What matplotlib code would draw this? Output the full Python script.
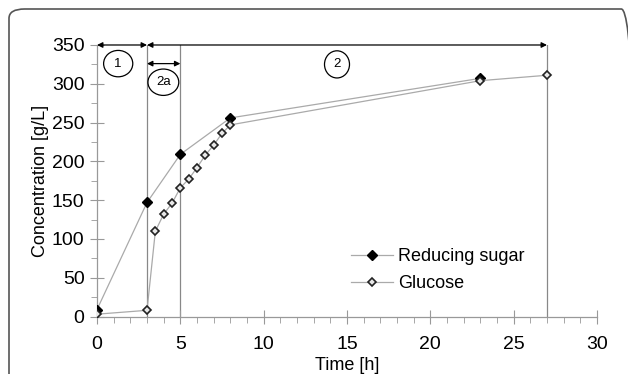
import matplotlib.pyplot as plt
from matplotlib.patches import Ellipse, FancyBboxPatch

plt.rcParams['font.family'] = ['Liberation Sans', 'DejaVu Sans']

# data
t_red = [0, 3, 5, 8, 23]
reducing = [9, 147, 209, 256, 307]
t_glc = [0, 3, 3.5, 4, 4.5, 5, 5.5, 6, 6.5, 7, 7.5, 8, 23, 27]
glucose = [3, 8, 110, 132, 146, 166, 177, 192, 208, 221, 236, 247, 304, 311]

phase_lines = [3, 5, 27]
phases = [("1", 0, 3, 350, 1.27, 326, 1.75, 34),
          ("2", 3, 27, 350, 14.4, 325, 1.5, 35),
          ("2a", 3, 5, 326, 3.98, 302, 1.85, 34)]

fig = plt.figure(figsize=(6.28, 3.74), dpi=100)
ax = fig.add_axes([0.1545, 0.1537, 0.7961, 0.7260])

# frame round the figure
frame = FancyBboxPatch((9 / 628, -0.1), (628 / 628), 1.1 - 9 / 374,
                       boxstyle="round,pad=0,rounding_size=0.025",
                       transform=fig.transFigure, fill=False,
                       edgecolor="#555555", lw=1.2, clip_on=False)
fig.patches.append(frame)

for x in phase_lines:
    ax.plot([x, x], [0, 350], color="#888888", lw=0.9, zorder=1)

ax.plot(t_red, reducing, color="#aaaaaa", lw=0.9, marker="D", ms=5,
        mfc="black", mec="black", label="Reducing sugar", zorder=3)
ax.plot(t_glc, glucose, color="#aaaaaa", lw=0.9, marker="D", ms=4.2,
        mfc="#e8e8e8", mec="#222222", mew=1.2, label="Glucose", zorder=3)

for lab, x0, x1, y, cx, cy, w, h in phases:
    ax.annotate("", xy=(x0, y), xytext=(x1, y),
                arrowprops=dict(arrowstyle="<|-|>", color="black", lw=0.9,
                                mutation_scale=8, shrinkA=0, shrinkB=0))
    ax.add_patch(Ellipse((cx, cy), w, h, fill=False, edgecolor="black",
                         lw=0.9, clip_on=False))
    ax.text(cx, cy, lab, ha="center", va="center", fontsize=9.5)

ax.set_xlim(0, 30)
ax.set_ylim(0, 350)
ax.set_xticks(range(0, 31, 5))
ax.set_xticks(range(0, 31), minor=True)
ax.set_yticks(range(0, 351, 50))
ax.set_yticks(range(0, 351, 25), minor=True)
for s in ["top", "right"]:
    ax.spines[s].set_visible(False)
for s in ["left", "bottom"]:
    ax.spines[s].set_color("#999999")
    ax.spines[s].set_linewidth(0.9)
ax.tick_params(which="major", direction="inout", length=10, color="#999999",
               labelsize=14, pad=9)
ax.tick_params(which="minor", direction="out", length=4, color="#999999")
ax.tick_params(axis="y", which="major", pad=4)

ax.set_xlabel("Time [h]", fontsize=13, labelpad=3)
ax.set_ylabel("Concentration [g/L]", fontsize=13, labelpad=2)

ax.legend(loc="upper left", bbox_to_anchor=(0.49, 0.285), frameon=False,
          fontsize=13, handlelength=2.3, handletextpad=0.3,
          labelspacing=0.55, borderpad=0)

fig.savefig("out.png", dpi=100)
